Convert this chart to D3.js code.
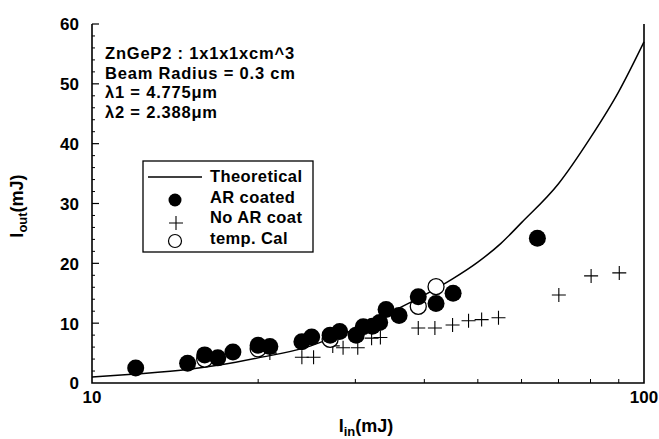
<!DOCTYPE html>
<html>
<head>
<meta charset="utf-8">
<script src="https://cdn.jsdelivr.net/npm/d3@7"></script>
<style>
  body { margin: 0; background: #fff; }
  svg text { font-family: "Liberation Sans", Arial, sans-serif; font-weight: bold; fill: #000; }
</style>
</head>
<body>
<div id="chart"></div>
<script>
// theoretical curve
const theoX = [10, 12, 15, 17, 20, 24.5, 27, 30, 33, 36, 40, 45, 50, 55, 60, 70, 80, 90, 100];
const theoY = [1.0, 1.5, 2.3, 3.0, 4.2, 6.0, 7.4, 9.0, 10.7, 12.5, 14.7, 17.4, 20.2, 23.3, 26.8, 33.3, 41, 48.7, 57];

// AR coated (filled circles)
const arX = [12.0, 14.9, 16.0, 16.9, 18.0, 20.0, 21.0, 24.0, 25.0, 27.0, 28.1, 30.1, 31.0, 32.2, 33.2, 34.1, 36.0, 39.0, 42.0, 45.1, 64.1];
const arY = [2.5, 3.3, 4.7, 4.2, 5.2, 6.3, 6.1, 6.9, 7.7, 8.0, 8.6, 8.0, 9.4, 9.5, 10.1, 12.3, 11.3, 14.4, 13.3, 15.0, 24.2];

// No AR coat (crosses)
const noArX = [21.0, 24.0, 25.2, 27.3, 28.5, 30.3, 32.1, 33.3, 39.0, 41.8, 45.0, 48.1, 50.8, 54.5, 70.1, 80.2, 90.2];
const noArY = [5.0, 4.3, 4.3, 6.2, 5.9, 5.9, 7.5, 7.6, 9.2, 9.2, 9.7, 10.4, 10.6, 10.9, 14.7, 17.9, 18.4];

// temp. Cal (open circles)
const calX = [16.0, 20.0, 27.0, 39.0, 42.0];
const calY = [4.0, 5.7, 7.3, 12.8, 16.1];

const yTicks = [0, 10, 20, 30, 40, 50, 60];
const xLabels = [10, 100];
const xMinor = [20, 30, 40, 50, 60, 70, 80, 90];
const infoLines = ["ZnGeP2 : 1x1x1xcm^3", "Beam Radius = 0.3 cm", "λ1 = 4.775μm", "λ2 = 2.388μm"];
const legendNames = ["Theoretical", "AR coated", "No AR coat", "temp. Cal"];

const width = 659, height = 439;
const svg = d3.select("#chart").append("svg").attr("width", width).attr("height", height);

const x = d3.scaleLog().domain([10, 100]).range([92, 644]);
const y = d3.scaleLinear().domain([0, 60]).range([383, 24]);

// frame (left, bottom, right)
svg.append("path")
    .attr("d", `M${x(10)},${y(60)}V${y(0)}H${x(100)}V${y(60)}`)
    .attr("fill", "none").attr("stroke", "#000").attr("stroke-width", 1.6);

// y ticks, inward
const yMinor = d3.range(0, 61, 2).filter(v => v % 10 !== 0);
svg.selectAll(".ymaj").data(yTicks.filter(v => v > 0)).join("line")
    .attr("x1", x(10)).attr("x2", x(10) + 7)
    .attr("y1", d => y(d)).attr("y2", d => y(d))
    .attr("stroke", "#000").attr("stroke-width", 1.2);
svg.selectAll(".ymin").data(yMinor).join("line")
    .attr("x1", x(10)).attr("x2", x(10) + 3)
    .attr("y1", d => y(d)).attr("y2", d => y(d))
    .attr("stroke", "#000").attr("stroke-width", 1);
svg.selectAll(".ylab").data(yTicks).join("text")
    .attr("x", 79).attr("y", d => y(d) + 2)
    .attr("text-anchor", "end").attr("dominant-baseline", "middle")
    .attr("font-size", 17).text(d => d);

// x ticks, inward
svg.selectAll(".xmin").data(xMinor).join("line")
    .attr("x1", d => x(d)).attr("x2", d => x(d))
    .attr("y1", y(0)).attr("y2", y(0) - 4)
    .attr("stroke", "#000").attr("stroke-width", 1);
svg.selectAll(".xlab").data(xLabels).join("text")
    .attr("x", d => x(d)).attr("y", 403)
    .attr("text-anchor", "middle").attr("font-size", 17).text(d => d);

// axis titles
const xt = svg.append("text").attr("x", 366).attr("y", 432).attr("text-anchor", "middle").attr("font-size", 18);
xt.append("tspan").text("I");
xt.append("tspan").attr("dy", 4).attr("font-size", 13).text("in");
xt.append("tspan").attr("dy", -4).text("(mJ)");

const yt = svg.append("text").attr("transform", "translate(23,206) rotate(-90)").attr("text-anchor", "middle").attr("font-size", 18);
yt.append("tspan").text("I");
yt.append("tspan").attr("dy", 4).attr("font-size", 13).text("out");
yt.append("tspan").attr("dy", -4).text("(mJ)");

// theoretical curve
const line = d3.line().x(d => x(d[0])).y(d => y(d[1])).curve(d3.curveMonotoneX);
svg.append("path").datum(theoX.map((v, i) => [v, theoY[i]]))
    .attr("d", line).attr("fill", "none").attr("stroke", "#000").attr("stroke-width", 1.5);

// no AR coat crosses
const cross = d => `M-7,0H7M0,-7V7`;
svg.selectAll(".cross").data(noArX.map((v, i) => [v, noArY[i]])).join("path")
    .attr("transform", d => `translate(${x(d[0])},${y(d[1])})`)
    .attr("d", cross).attr("stroke", "#000").attr("stroke-width", 1.1).attr("fill", "none");

// temp. Cal open circles
svg.selectAll(".cal").data(calX.map((v, i) => [v, calY[i]])).join("circle")
    .attr("cx", d => x(d[0])).attr("cy", d => y(d[1])).attr("r", 8)
    .attr("fill", "#fff").attr("stroke", "#000").attr("stroke-width", 1.3);

// AR coated filled circles
svg.selectAll(".ar").data(arX.map((v, i) => [v, arY[i]])).join("circle")
    .attr("cx", d => x(d[0])).attr("cy", d => y(d[1])).attr("r", 8.5)
    .attr("fill", "#000");

// info text
svg.selectAll(".info").data(infoLines).join("text")
    .attr("x", 105).attr("y", (d, i) => 59 + i * 19.5)
    .attr("font-size", 16.5).attr("letter-spacing", 0.8).text(d => d);

// legend
const lg = svg.append("g");
lg.append("rect").attr("x", 143).attr("y", 161).attr("width", 170).attr("height", 91)
    .attr("fill", "#fff").attr("stroke", "#000").attr("stroke-width", 1.3);
const rows = [176, 197, 217, 238];
lg.append("line").attr("x1", 148).attr("x2", 202).attr("y1", rows[0] + 1).attr("y2", rows[0] + 1)
    .attr("stroke", "#000").attr("stroke-width", 1.3);
lg.append("circle").attr("cx", 175).attr("cy", rows[1] + 3).attr("r", 6.5).attr("fill", "#000");
lg.append("path").attr("transform", `translate(176,${rows[2] + 6})`).attr("d", cross)
    .attr("stroke", "#000").attr("stroke-width", 1.1);
lg.append("circle").attr("cx", 175).attr("cy", rows[3] + 3).attr("r", 6.5)
    .attr("fill", "#fff").attr("stroke", "#000").attr("stroke-width", 1.2);
lg.selectAll(".lgt").data(legendNames).join("text")
    .attr("x", 210).attr("y", (d, i) => rows[i] + 6)
    .attr("font-size", 16.5).attr("letter-spacing", 0.4).text(d => d);
</script>
</body>
</html>
